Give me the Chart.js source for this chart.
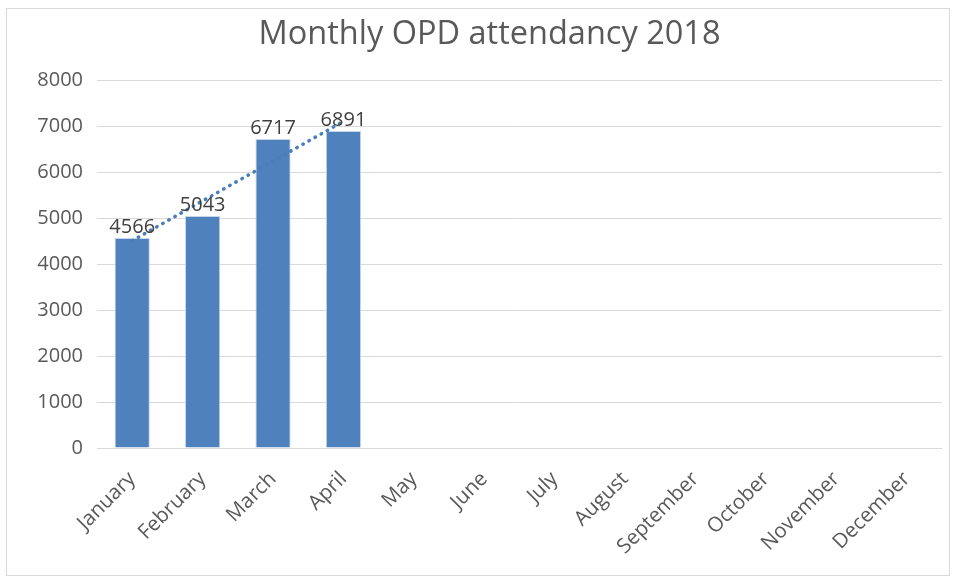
<!DOCTYPE html>
<html lang="en">
<head>
  <meta charset="UTF-8" />
  <title>Monthly OPD attendancy 2018</title>
  <script src="https://cdn.jsdelivr.net/npm/chart.js"></script>
  <style>
    body { margin: 0; background: #fff; }
    #frame { position: absolute; left: 6px; top: 8px; width: 944px; height: 568px; border: 1px solid #d9d9d9; box-sizing: border-box; }
  </style>
</head>
<body>
  <div id="frame"><canvas id="opdChart"></canvas></div>

  <script>
    const months = ['January', 'February', 'March', 'April', 'May', 'June',
      'July', 'August', 'September', 'October', 'November', 'December'];
    const attendance = [4566, 5043, 6717, 6891, null, null, null, null, null, null, null, null];
    // linear trendline
    const trend = [4507, 5372, 6237, 7102, null, null, null, null, null, null, null, null];

    const barLabels = {
      id: 'barLabels',
      afterDatasetsDraw(chart) {
        const ctx = chart.ctx;
        const meta = chart.getDatasetMeta(1);
        ctx.save();
        ctx.font = '20px "Open Sans", sans-serif';
        ctx.fillStyle = '#404040';
        ctx.textAlign = 'center';
        ctx.textBaseline = 'bottom';
        meta.data.forEach((bar, i) => {
          if (attendance[i] == null) return;
          ctx.fillText(attendance[i], bar.x, bar.y - 1);
        });
        ctx.restore();
      }
    };

    new Chart(document.getElementById('opdChart'), {
      data: {
        labels: months,
        datasets: [
          {
            type: 'line',
            data: trend,
            borderColor: '#4a7ebb',
            borderWidth: 3.5,
            borderDash: [0.5, 6.5],
            borderCapStyle: 'round',
            pointRadius: 0,
            fill: false,
            order: 0
          },
          {
            type: 'bar',
            data: attendance,
            backgroundColor: '#4f81bd',
            borderColor: '#c6d5ea',
            borderWidth: 1,
            barPercentage: 0.5,
            categoryPercentage: 1,
            order: 1
          }
        ]
      },
      options: {
        responsive: true,
        maintainAspectRatio: false,
        animation: false,
        layout: { padding: { left: 30, right: 7, top: 0, bottom: 0 } },
        plugins: {
          legend: { display: false },
          tooltip: { enabled: false },
          title: {
            display: true,
            text: 'Monthly OPD attendancy 2018',
            color: '#595959',
            font: { family: '"Open Sans", sans-serif', size: 32.5, weight: 'normal' },
            padding: { top: 6, bottom: 26 }
          }
        },
        scales: {
          x: {
            grid: { display: false, drawTicks: false },
            border: { display: false },
            afterFit(scale) { scale.height = 127; },
            ticks: {
              color: '#595959',
              font: { family: '"Open Sans", sans-serif', size: 20.5 },
              minRotation: 45,
              maxRotation: 45,
              autoSkip: false,
              padding: 19
            }
          },
          y: {
            min: 0,
            max: 8000,
            grid: { color: '#d9d9d9', lineWidth: 1, drawTicks: false },
            border: { display: false },
            afterFit(scale) { scale.width = 60; },
            ticks: {
              stepSize: 1000,
              color: '#595959',
              font: { family: '"Open Sans", sans-serif', size: 20 },
              padding: 14,
              callback: v => String(v)
            }
          }
        }
      },
      plugins: [barLabels]
    });
  </script>
</body>
</html>
